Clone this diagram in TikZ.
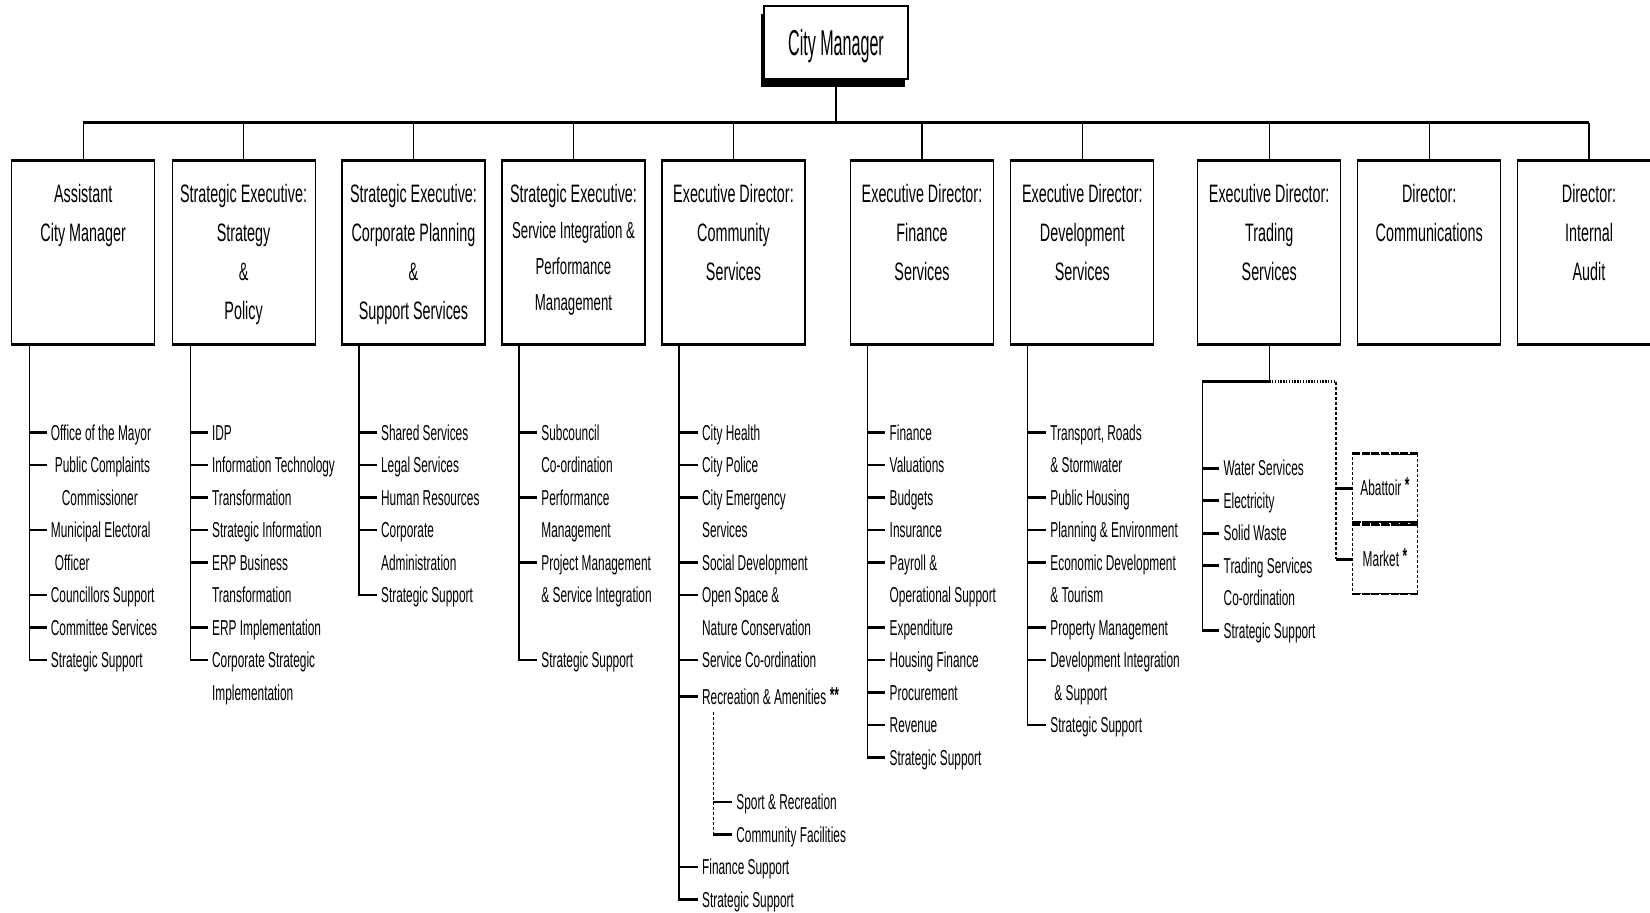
\documentclass[tikz,border=0pt]{standalone}
\usepackage{fontspec}
\setmainfont{Liberation Sans}
\newfontfamily\itemfam{Liberation Sans}[FakeStretch=0.55]
\newfontfamily\hdfam{Liberation Sans}[FakeStretch=0.57]
\newfontfamily\cmfam{Liberation Sans}[FakeStretch=0.447]
\usetikzlibrary{shadows}
\begin{document}
\begin{tikzpicture}[x=0.5pt,y=-0.5pt,
  hd/.style={font=\hdfam\fontsize{12.6}{14}\selectfont, inner sep=0pt, text height=8.7pt, text depth=0pt},
  hds/.style={font=\hdfam\fontsize{11.6}{13}\selectfont, inner sep=0pt, text height=8pt, text depth=0pt},
  it/.style={font=\itemfam\fontsize{10.8}{12}\selectfont, anchor=west, inner xsep=2pt, inner ysep=0pt, text height=7.5pt, text depth=0pt},
  hbox/.style={draw, line width=0.6pt, minimum width=71.5pt, minimum height=91.35pt, inner sep=0pt},
  rim/.style={line width=1.8pt},
  vln/.style={line width=0.7pt},
  tk/.style={line width=1.35pt},
  barln/.style={line width=1.7pt},
  dropln/.style={line width=0.6pt},
  dln/.style={line width=0.7pt, dash pattern=on 1.5pt off 1pt},
  dotbar/.style={line width=1.5pt, dash pattern=on 0.7pt off 0.7pt},
  dbar/.style={line width=1.3pt, dash pattern=on 4pt off 0.8pt},
  dbox/.style={draw, line width=0.6pt, dash pattern=on 1.5pt off 1pt, minimum width=32.3pt, inner sep=0pt,
    font=\itemfam\fontsize{10.8}{12}\selectfont, text height=7.5pt, text depth=0pt},
  cmbox/.style={draw, fill=white, line width=0.7pt, minimum width=72pt, minimum height=36.5pt, inner sep=0pt,
    font=\cmfam\fontsize{18}{20}\selectfont, text height=12.5pt, text depth=0pt,
    drop shadow={shadow xshift=-1.5pt, shadow yshift=-4pt, opacity=1, fill=black}}
]
\useasboundingbox (0,0) rectangle (1650,912);
\clip (0,0) rectangle (1650,912);

% ---------- top ----------
\node[cmbox] (cm) at (836,42.5) {City Manager};

% ---------- boxes ----------
\node[hbox] (b1) at (83.2,252.35) {};
\node[hbox] (b2) at (243.6,252.35) {};
\node[hbox] (b3) at (413.5,252.35) {};
\node[hbox] (b4) at (573.5,252.35) {};
\node[hbox] (b5) at (733.5,252.35) {};
\node[hbox] (b6) at (922,252.35) {};
\node[hbox] (b7) at (1082.3,252.35) {};
\node[hbox] (b8) at (1269.2,252.35) {};
\node[hbox] (b9) at (1429.2,252.35) {};
\node[hbox] (b10) at (1589,252.35) {};
\foreach \i in {1,...,10} {
  \draw[rim] (b\i.north west) -- (b\i.north east);
  \draw[rim] (b\i.south west) -- (b\i.south east);
}

\coordinate (barY) at (0,122.7);
\draw[barln] (b1.north |- barY) -- (b10.north |- barY);
\foreach \i in {1,...,10} \draw[dropln] (b\i.north) -- (b\i.north |- barY);
\draw[dropln] (cm.south) -- (cm.south |- barY);

% ---------- header texts ----------
\node[hd] (h1a) at (83.2,193.6) {Assistant};
\node[hd] (h1b) at (83.2,232.6) {City Manager};
\node[hd] (h2a) at (243.6,193.6) {Strategic Executive:};
\node[hd] (h2b) at (243.6,232.6) {Strategy};
\node[hd] (h2c) at (243.6,271.5) {\&};
\node[hd] (h2d) at (243.6,310.4) {Policy};
\node[hd] (h3a) at (413.5,193.6) {Strategic Executive:};
\node[hd] (h3b) at (413.5,232.6) {Corporate Planning};
\node[hd] (h3c) at (413.5,271.5) {\&};
\node[hd] (h3d) at (413.5,310.4) {Support Services};
\node[hd] (h4a) at (573.5,193.6) {Strategic Executive:};
\node[hds] (h4b) at (573.5,230.5) {Service Integration \&};
\node[hds] (h4c) at (573.5,266.2) {Performance};
\node[hds] (h4d) at (573.5,302) {Management};
\node[hd] (h5a) at (733.5,193.6) {Executive Director:};
\node[hd] (h5b) at (733.5,232.6) {Community};
\node[hd] (h5c) at (733.5,271.5) {Services};
\node[hd] (h6a) at (922,193.6) {Executive Director:};
\node[hd] (h6b) at (922,232.6) {Finance};
\node[hd] (h6c) at (922,271.5) {Services};
\node[hd] (h7a) at (1082.3,193.6) {Executive Director:};
\node[hd] (h7b) at (1082.3,232.6) {Development};
\node[hd] (h7c) at (1082.3,271.5) {Services};
\node[hd] (h8a) at (1269.2,193.6) {Executive Director:};
\node[hd] (h8b) at (1269.2,232.6) {Trading};
\node[hd] (h8c) at (1269.2,271.5) {Services};
\node[hd] (h9a) at (1429.2,193.6) {Director:};
\node[hd] (h9b) at (1429.2,232.6) {Communications};
\node[hd] (h10a) at (1589,193.6) {Director:};
\node[hd] (h10b) at (1589,232.6) {Internal};
\node[hd] (h10c) at (1589,271.5) {Audit};

% ---------- column 1 ----------
\coordinate (v1) at (29.5,343.7);
\node[it] (c1a) at (46.5,432.5) {Office of the Mayor};
\node[it] (c1b) at (46.5,465) {\hspace*{2pt}Public Complaints};
\node[it] (c1c) at (46.5,497.5) {\hspace*{5.5pt}Commissioner};
\node[it] (c1d) at (46.5,530) {Municipal Electoral};
\node[it] (c1e) at (46.5,562.5) {\hspace*{2pt}Officer};
\node[it] (c1f) at (46.5,595) {Councillors Support};
\node[it] (c1g) at (46.5,627.5) {Committee Services};
\node[it] (c1h) at (46.5,660) {Strategic Support};
\draw[vln, shorten >=-0.65pt] (v1) -- (v1 |- c1h.west);
\foreach \n in {c1a,c1b,c1d,c1f,c1g,c1h} \draw[tk] (v1 |- \n.west) -- (\n.west);

% ---------- column 2 ----------
\coordinate (v2) at (190.7,343.7);
\node[it] (c2a) at (207.7,432.5) {IDP};
\node[it] (c2b) at (207.7,465) {Information Technology};
\node[it] (c2c) at (207.7,497.5) {Transformation};
\node[it] (c2d) at (207.7,530) {Strategic Information};
\node[it] (c2e) at (207.7,562.5) {ERP Business};
\node[it] (c2f) at (207.7,595) {Transformation};
\node[it] (c2g) at (207.7,627.5) {ERP Implementation};
\node[it] (c2h) at (207.7,660) {Corporate Strategic};
\node[it] (c2i) at (207.7,692.5) {Implementation};
\draw[vln, shorten >=-0.65pt] (v2) -- (v2 |- c2h.west);
\foreach \n in {c2a,c2b,c2c,c2d,c2e,c2g,c2h} \draw[tk] (v2 |- \n.west) -- (\n.west);

% ---------- column 3 ----------
\coordinate (v3) at (359,343.7);
\node[it] (c3a) at (376.7,432.5) {Shared Services};
\node[it] (c3b) at (376.7,465) {Legal Services};
\node[it] (c3c) at (376.7,497.5) {Human Resources};
\node[it] (c3d) at (376.7,530) {Corporate};
\node[it] (c3e) at (376.7,562.5) {Administration};
\node[it] (c3f) at (376.7,595) {Strategic Support};
\draw[vln, shorten >=-0.65pt] (v3) -- (v3 |- c3f.west);
\foreach \n in {c3a,c3b,c3c,c3d,c3f} \draw[tk] (v3 |- \n.west) -- (\n.west);

% ---------- column 4 ----------
\coordinate (v4) at (519,343.7);
\node[it] (c4a) at (537,432.5) {Subcouncil};
\node[it] (c4b) at (537,465) {Co-ordination};
\node[it] (c4c) at (537,497.5) {Performance};
\node[it] (c4d) at (537,530) {Management};
\node[it] (c4e) at (537,562.5) {Project Management};
\node[it] (c4f) at (537,595) {\& Service Integration};
\node[it] (c4g) at (537,660) {Strategic Support};
\draw[vln, shorten >=-0.65pt] (v4) -- (v4 |- c4g.west);
\foreach \n in {c4a,c4c,c4e,c4g} \draw[tk] (v4 |- \n.west) -- (\n.west);

% ---------- column 5 ----------
\coordinate (v5) at (679,343.7);
\node[it] (c5a) at (697.7,432.5) {City Health};
\node[it] (c5b) at (697.7,465) {City Police};
\node[it] (c5c) at (697.7,497.5) {City Emergency};
\node[it] (c5d) at (697.7,530) {Services};
\node[it] (c5e) at (697.7,562.5) {Social Development};
\node[it] (c5f) at (697.7,595) {Open Space \&};
\node[it] (c5g) at (697.7,627.5) {Nature Conservation};
\node[it] (c5h) at (697.7,660) {Service Co-ordination};
\node[it] (c5i) at (697.7,696.6) {Recreation \& Amenities\,\raisebox{1pt}{\textbf{**}}};
\node[it] (c5j) at (732,801.9) {Sport \& Recreation};
\node[it] (c5k) at (732,834.5) {Community Facilities};
\node[it] (c5l) at (697.7,867.1) {Finance Support};
\node[it] (c5m) at (697.7,899.7) {Strategic Support};
\draw[vln, shorten >=-0.65pt] (v5) -- (v5 |- c5m.west);
\foreach \n in {c5a,c5b,c5c,c5e,c5f,c5h,c5i,c5l,c5m} \draw[tk] (v5 |- \n.west) -- (\n.west);
\coordinate (v5s) at (713.3,711.7);
\draw[dln] (v5s) -- (v5s |- c5k.west);
\foreach \n in {c5j,c5k} \draw[tk] (v5s |- \n.west) -- (\n.west);

% ---------- column 6 ----------
\coordinate (v6) at (867.3,343.7);
\node[it] (c6a) at (885.3,432.5) {Finance};
\node[it] (c6b) at (885.3,465) {Valuations};
\node[it] (c6c) at (885.3,497.5) {Budgets};
\node[it] (c6d) at (885.3,530) {Insurance};
\node[it] (c6e) at (885.3,562.5) {Payroll \&};
\node[it] (c6f) at (885.3,595) {Operational Support};
\node[it] (c6g) at (885.3,627.5) {Expenditure};
\node[it] (c6h) at (885.3,660) {Housing Finance};
\node[it] (c6i) at (885.3,692.5) {Procurement};
\node[it] (c6j) at (885.3,725) {Revenue};
\node[it] (c6k) at (885.3,757.5) {Strategic Support};
\draw[vln, shorten >=-0.65pt] (v6) -- (v6 |- c6k.west);
\foreach \n in {c6a,c6b,c6c,c6d,c6e,c6g,c6h,c6i,c6j,c6k} \draw[tk] (v6 |- \n.west) -- (\n.west);

% ---------- column 7 ----------
\coordinate (v7) at (1027.7,343.7);
\node[it] (c7a) at (1046,432.5) {Transport, Roads};
\node[it] (c7b) at (1046,465) {\& Stormwater};
\node[it] (c7c) at (1046,497.5) {Public Housing};
\node[it] (c7d) at (1046,530) {Planning \& Environment};
\node[it] (c7e) at (1046,562.5) {Economic Development};
\node[it] (c7f) at (1046,595) {\& Tourism};
\node[it] (c7g) at (1046,627.5) {Property Management};
\node[it] (c7h) at (1046,660) {Development Integration};
\node[it] (c7i) at (1046,692.5) {\hspace*{2pt}\& Support};
\node[it] (c7j) at (1046,725) {Strategic Support};
\draw[vln, shorten >=-0.65pt] (v7) -- (v7 |- c7j.west);
\foreach \n in {c7a,c7c,c7d,c7e,c7g,c7h,c7j} \draw[tk] (v7 |- \n.west) -- (\n.west);

% ---------- column 8 (trading) ----------
\coordinate (tj) at (1269.2,381.7);
\coordinate (tl) at (1202.3,381.7);
\coordinate (tr) at (1336,381.7);
\node[it] (c8a) at (1219.3,468.3) {Water Services};
\node[it] (c8b) at (1219.3,500.8) {Electricity};
\node[it] (c8c) at (1219.3,533.3) {Solid Waste};
\node[it] (c8d) at (1219.3,565.8) {Trading Services};
\node[it] (c8e) at (1219.3,598.3) {Co-ordination};
\node[it] (c8f) at (1219.3,630.8) {Strategic Support};
\draw[dropln] (b8.south) -- (tj);
\draw[tk] (tl) -- (tj);
\draw[dotbar] (tj) -- (tr);
\draw[vln, shorten >=-0.65pt] (tl) -- (tl |- c8f.west);
\foreach \n in {c8a,c8b,c8c,c8d,c8f} \draw[tk] (tl |- \n.west) -- (\n.west);

\node[dbox, minimum height=33.85pt] (ab) at (1385,488.2) {Abattoir\,\raisebox{1.5pt}{\textbf{*}}};
\node[dbox, minimum height=34.15pt] (mk) at (1385,559.2) {Market\,\raisebox{1.5pt}{\textbf{*}}};
\draw[dbar] (ab.north west) -- (ab.north east);
\draw[dbar] (ab.south west) -- (ab.south east);
\draw[dbar] (mk.north west) -- (mk.north east);
\draw[dbar] (mk.south west) -- (mk.south east);
\draw[dln] (tr) -- (tr |- mk.west);
\draw[tk] (tr |- ab.west) -- (ab.west);
\draw[tk] (tr |- mk.west) -- (mk.west);
\end{tikzpicture}
\end{document}
